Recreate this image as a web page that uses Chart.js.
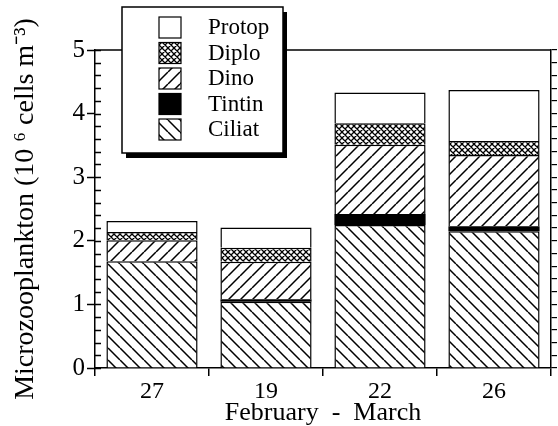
<!DOCTYPE html>
<html>
<head>
<meta charset="utf-8">
<script src="https://cdn.jsdelivr.net/npm/chart.js@4.4.1/dist/chart.umd.min.js"></script>
<style>
  body { margin: 0; background: #fff; }
</style>
</head>
<body>
<canvas id="chart" width="558" height="426"></canvas>
<script>
const categories = ['27', '19', '22', '26'];
const ciliat = [1.68, 1.04, 2.25, 2.15];
const tintin = [0, 0.04, 0.17, 0.08];
const dino = [0.33, 0.59, 1.09, 1.12];
const diplo = [0.13, 0.22, 0.34, 0.22];
const protop = [0.17, 0.32, 0.48, 0.80];
const yMax = 5;
const yStep = 0.2; // minor ticks, labels only on whole numbers

const serif = '"Liberation Serif", "Times New Roman", serif';
const canvas = document.getElementById('chart');
const mainCtx = canvas.getContext('2d');

function hatch(kind) {
    const s = kind === 'cross' ? 6 : 12;
    const c = document.createElement('canvas');
    c.width = s;
    c.height = s;
    const g = c.getContext('2d');
    g.fillStyle = '#fff';
    g.fillRect(0, 0, s, s);
    g.strokeStyle = '#000';
    g.lineWidth = kind === 'cross' ? 1.3 : 1.5;
    g.beginPath();
    for (let k = -1; k <= 1; k++) {
        if (kind === 'back' || kind === 'cross') {
            g.moveTo(k * s, 0);
            g.lineTo(k * s + s, s);
        }
        if (kind === 'fwd' || kind === 'cross') {
            g.moveTo(k * s, s);
            g.lineTo(k * s + s, 0);
        }
    }
    g.stroke();
    return mainCtx.createPattern(c, 'repeat');
}

const datasets = [
    {label: 'Ciliat', data: ciliat, backgroundColor: hatch('back'), borderWidth: 1.5},
    {label: 'Tintin', data: tintin, backgroundColor: '#000', borderWidth: 0},
    {label: 'Dino', data: dino, backgroundColor: hatch('fwd'), borderWidth: 1.5},
    {label: 'Diplo', data: diplo, backgroundColor: hatch('cross'), borderWidth: 1.5},
    {label: 'Protop', data: protop, backgroundColor: '#fff', borderWidth: 1.5}
].map(d => Object.assign(d, {
    borderColor: '#000',
    borderSkipped: 'start',
    barPercentage: 0.8,
    categoryPercentage: 1
}));

const isWhole = v => Math.abs(v - Math.round(v)) < 1e-6;

// short ticks pointing into the plot on the left axis + top frame line
const frameExtras = {
    id: 'frameExtras',
    afterDraw(chart) {
        const ctx = chart.ctx;
        const area = chart.chartArea;
        const y = chart.scales.y;
        ctx.save();
        ctx.strokeStyle = '#000';
        ctx.lineWidth = 1.5;
        ctx.beginPath();
        y.ticks.forEach(t => {
            const py = Math.round(y.getPixelForValue(t.value)) + 0.5;
            ctx.moveTo(area.left, py);
            ctx.lineTo(area.left + 6, py);
        });
        ctx.moveTo(area.left, area.top);
        ctx.lineTo(area.right, area.top);
        ctx.stroke();
        ctx.restore();
    }
};

// boxed legend with drop shadow, top entry = top of stack
const boxLegend = {
    id: 'boxLegend',
    afterDraw(chart) {
        const ctx = chart.ctx;
        const bx = 122, by = 7, bw = 161, bh = 146;
        ctx.save();
        ctx.fillStyle = '#000';
        ctx.fillRect(bx + 4, by + 5, bw, bh);
        ctx.fillStyle = '#fff';
        ctx.fillRect(bx, by, bw, bh);
        ctx.strokeStyle = '#000';
        ctx.lineWidth = 1.5;
        ctx.strokeRect(bx, by, bw, bh);
        const items = chart.data.datasets.slice().reverse();
        ctx.font = '23px ' + serif;
        ctx.textBaseline = 'middle';
        ctx.textAlign = 'left';
        items.forEach((ds, i) => {
            const sy = 17 + i * 25.5;
            ctx.fillStyle = ds.backgroundColor;
            ctx.fillRect(159, sy, 22, 21);
            ctx.lineWidth = 1.2;
            ctx.strokeRect(159, sy, 22, 21);
            ctx.fillStyle = '#000';
            ctx.fillText(ds.label, 208, sy + 11);
        });
        ctx.restore();
    }
};

new Chart(canvas, {
    type: 'bar',
    data: {labels: categories, datasets: datasets},
    plugins: [frameExtras, boxLegend],
    options: {
        responsive: false,
        animation: false,
        layout: {padding: {top: 50, left: 0, right: 0, bottom: 0}},
        plugins: {legend: {display: false}, tooltip: {enabled: false}},
        scales: {
            x: {
                stacked: true,
                grid: {drawOnChartArea: false, offset: true, tickLength: 8, color: '#000', lineWidth: 1.5},
                border: {display: true, color: '#000', width: 1.5},
                ticks: {font: {family: serif, size: 24}, color: '#000', padding: 1},
                title: {
                    display: true, text: 'February  -  March', color: '#000',
                    font: {family: serif, size: 26, lineHeight: 1}, padding: 0
                },
                afterFit: s => { s.height = 58; }
            },
            y: {
                stacked: true,
                min: 0,
                max: yMax,
                ticks: {
                    stepSize: yStep, autoSkip: false, color: '#000', padding: 2,
                    font: {family: serif, size: 25},
                    callback: v => isWhole(v) ? String(Math.round(v)) : ''
                },
                grid: {
                    drawOnChartArea: false, tickLength: 8, tickWidth: 1.5,
                    tickColor: c => (c.tick && isWhole(c.tick.value)) ? '#000' : 'rgba(0,0,0,0)'
                },
                border: {display: true, color: '#000', width: 1.5},
                title: {
                    display: true, text: 'Microzooplankton (10 \u2076 cells m\u207B\u00B3)', color: '#000',
                    font: {family: serif, size: 28, lineHeight: 1.2}, padding: {top: 9, bottom: 0}
                },
                afterFit: s => { s.width = 95; }
            },
            y2: {
                position: 'right',
                min: 0,
                max: yMax,
                ticks: {display: false, stepSize: yStep, autoSkip: false},
                grid: {drawOnChartArea: false, tickLength: 6, color: '#000', lineWidth: 1.2},
                border: {display: true, color: '#000', width: 1.5},
                afterFit: s => { s.width = 7; }
            }
        }
    }
});
</script>
</body>
</html>
